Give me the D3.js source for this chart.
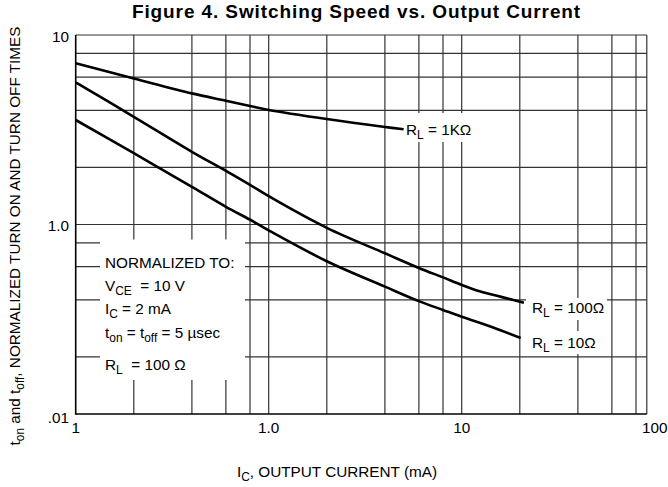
<!DOCTYPE html>
<html>
<head>
<meta charset="utf-8">
<script src="https://cdn.jsdelivr.net/npm/d3@7"></script>
<style>
  html, body { margin: 0; padding: 0; background: #fff; }
  svg text { white-space: pre; }
</style>
</head>
<body>
<div id="chart"></div>
<script>
/* Figure 4 - switching speed vs. output current (log-log) */

var xGrid = [0.2, 0.4, 0.6, 0.8, 1, 2, 4, 6, 8, 10, 20, 40, 60, 80];
var yGrid = [0.2, 0.4, 0.6, 0.8, 1, 2, 4, 6, 8];
var xTicks = [0.1, 1, 10, 100];
var xTickLabels = ['1', '1.0', '10', '100'];
var yTicks = [10, 1, 0.1];
var yTickLabels = ['10', '1.0', '.01'];

var rl1kX = [0.1, 0.2, 0.4, 0.6, 0.8, 1, 2, 4, 5];
var rl1kY = [7.09, 5.9, 4.92, 4.5, 4.22, 4.02, 3.6, 3.27, 3.18];

var rl100X = [0.1, 0.2, 0.4, 0.6, 0.8, 1, 2, 4, 6, 8, 10, 12.5, 16, 21];
var rl100Y = [5.63, 3.7, 2.42, 1.92, 1.62, 1.41, 0.96, 0.705, 0.59, 0.526, 0.48, 0.443, 0.415, 0.386];

var rl10X = [0.1, 0.2, 0.4, 0.6, 0.8, 1, 2, 4, 6, 8, 10, 12.5, 16, 20.2];
var rl10Y = [3.56, 2.38, 1.58, 1.24, 1.06, 0.93, 0.64, 0.47, 0.394, 0.354, 0.326, 0.302, 0.276, 0.252];

(function draw() {
  var W = 668, H = 487;

  /* pick the narrow face if it is there, else scale Liberation Sans down */
  function hasFont(name) {
    var c = document.createElement('canvas').getContext('2d');
    var s = 'NORMALIZED TURN ON 0123';
    c.font = '40px monospace';
    var w0 = c.measureText(s).width;
    c.font = '40px "' + name + '", monospace';
    return Math.abs(c.measureText(s).width - w0) > 0.5;
  }
  var narrow = hasFont('Liberation Sans Narrow');
  var FONT = narrow ? '"Liberation Sans Narrow", "Arial Narrow", sans-serif'
                    : '"Liberation Sans", Arial, sans-serif';
  var FS = narrow ? 18.5 : 15.3;

  var svg = d3.select('#chart').append('svg')
    .attr('width', W).attr('height', H)
    .style('font-family', FONT);

  var x = d3.scaleLog().domain([0.1, 100]).range([75.7, 654.7]);
  var y = d3.scaleLog().domain([0.1, 10]).range([414, 35]);
  var xEnd = 91;           /* plot frame stops short of 100 */
  var x0 = x(0.1), x1 = x(xEnd), y0 = y(0.1), y1 = y(10);

  /* grid */
  var grid = svg.append('g').attr('stroke', '#333').attr('stroke-width', 1.2);
  grid.selectAll('line.v').data(xGrid).enter().append('line')
    .attr('x1', function (d) { return x(d); }).attr('x2', function (d) { return x(d); })
    .attr('y1', y1).attr('y2', y0);
  grid.selectAll('line.h').data(yGrid).enter().append('line')
    .attr('x1', x0).attr('x2', x1)
    .attr('y1', function (d) { return y(d); }).attr('y2', function (d) { return y(d); });
  grid.append('line').attr('x1', x0).attr('x2', x1).attr('y1', y1).attr('y2', y1);
  grid.append('line').attr('x1', x1).attr('x2', x1).attr('y1', y1).attr('y2', y0);

  /* white patches behind the notes */
  var patches = [
    [100, 239.5, 145, 140.5],
    [405, 113, 77, 29],
    [526, 298, 81, 22],
    [526, 331, 72, 23]
  ];
  svg.selectAll('rect.patch').data(patches).enter().append('rect')
    .attr('x', function (d) { return d[0]; }).attr('y', function (d) { return d[1]; })
    .attr('width', function (d) { return d[2]; }).attr('height', function (d) { return d[3]; })
    .attr('fill', '#fff');

  /* left + bottom axis lines */
  svg.append('line').attr('x1', x0).attr('x2', x0).attr('y1', y1).attr('y2', y0 + 0.8)
    .attr('stroke', '#000').attr('stroke-width', 1.6);
  svg.append('line').attr('x1', x0).attr('x2', x1).attr('y1', y0).attr('y2', y0)
    .attr('stroke', '#000').attr('stroke-width', 1.6);

  /* curves */
  var line = d3.line()
    .x(function (d) { return x(d[0]); })
    .y(function (d) { return y(d[1]); })
    .curve(d3.curveCatmullRom.alpha(0.5));
  [[rl1kX, rl1kY], [rl100X, rl100Y], [rl10X, rl10Y]].forEach(function (s) {
    svg.append('path')
      .attr('d', line(d3.zip(s[0], s[1])))
      .attr('fill', 'none').attr('stroke', '#000').attr('stroke-width', 2.6)
      .attr('stroke-linecap', 'butt');
  });

  /* text with optional subscripts: parts = [[text, isSub], ...] */
  function rich(parent, tx, ty, parts, size, anchor) {
    var t = parent.append('text').attr('x', tx).attr('y', ty)
      .attr('font-size', size).attr('fill', '#000')
      .attr('text-anchor', anchor || 'start');
    var shift = 0;
    parts.forEach(function (p) {
      var target = p[1] ? size * 0.28 : 0;
      t.append('tspan').attr('dy', target - shift)
        .attr('font-size', p[1] ? size * 0.78 : size)
        .text(p[0]);
      shift = target;
    });
    return t;
  }

  /* tick labels */
  svg.selectAll('text.xt').data(xTicks).enter().append('text')
    .attr('x', function (d) { return x(d); }).attr('y', 433)
    .attr('text-anchor', 'middle').attr('font-size', FS)
    .text(function (d, i) { return xTickLabels[i]; });
  svg.selectAll('text.yt').data(yTicks).enter().append('text')
    .attr('x', 69).attr('y', function (d, i) { return y(d) + (i === 2 ? 9 : 6.5); })
    .attr('text-anchor', 'end').attr('font-size', FS)
    .text(function (d, i) { return yTickLabels[i]; });

  /* curve labels */
  rich(svg, 406, 135, [['R', 0], ['L', 1], [' = 1K\u03A9', 0]], FS);
  rich(svg, 532, 313, [['R', 0], ['L', 1], [' = 100\u03A9', 0]], FS);
  rich(svg, 532, 348, [['R', 0], ['L', 1], [' = 10\u03A9', 0]], FS);

  /* normalisation note */
  rich(svg, 105, 268, [['NORMALIZED TO:', 0]], FS);
  rich(svg, 105, 291, [['V', 0], ['CE', 1], ['  = 10 V', 0]], FS);
  rich(svg, 105, 314, [['I', 0], ['C', 1], [' = 2 mA', 0]], FS);
  rich(svg, 105, 338, [['t', 0], ['on', 1], [' = t', 0], ['off', 1], [' = 5 \u00B5sec', 0]], FS);
  rich(svg, 105, 370, [['R', 0], ['L', 1], ['  = 100 \u03A9', 0]], FS);

  /* axis titles */
  rich(svg, 337, 477, [['I', 0], ['C', 1], [', OUTPUT CURRENT (mA)', 0]], FS, 'middle');
  var yl = svg.append('g').attr('transform', 'translate(20,236) rotate(-90)');
  rich(yl, 0, 0, [['t', 0], ['on', 1], [' and t', 0], ['off', 1],
    [', NORMALIZED TURN ON AND TURN OFF TIMES', 0]], FS, 'middle');

  /* title */
  svg.append('text').attr('x', 356.5).attr('y', 17.5)
    .attr('text-anchor', 'middle')
    .attr('font-family', '"Liberation Sans", Arial, sans-serif')
    .attr('font-weight', 'bold').attr('font-size', 19)
    .attr('letter-spacing', 0.9)
    .text('Figure 4. Switching Speed vs. Output Current');
}());
</script>
</body>
</html>
